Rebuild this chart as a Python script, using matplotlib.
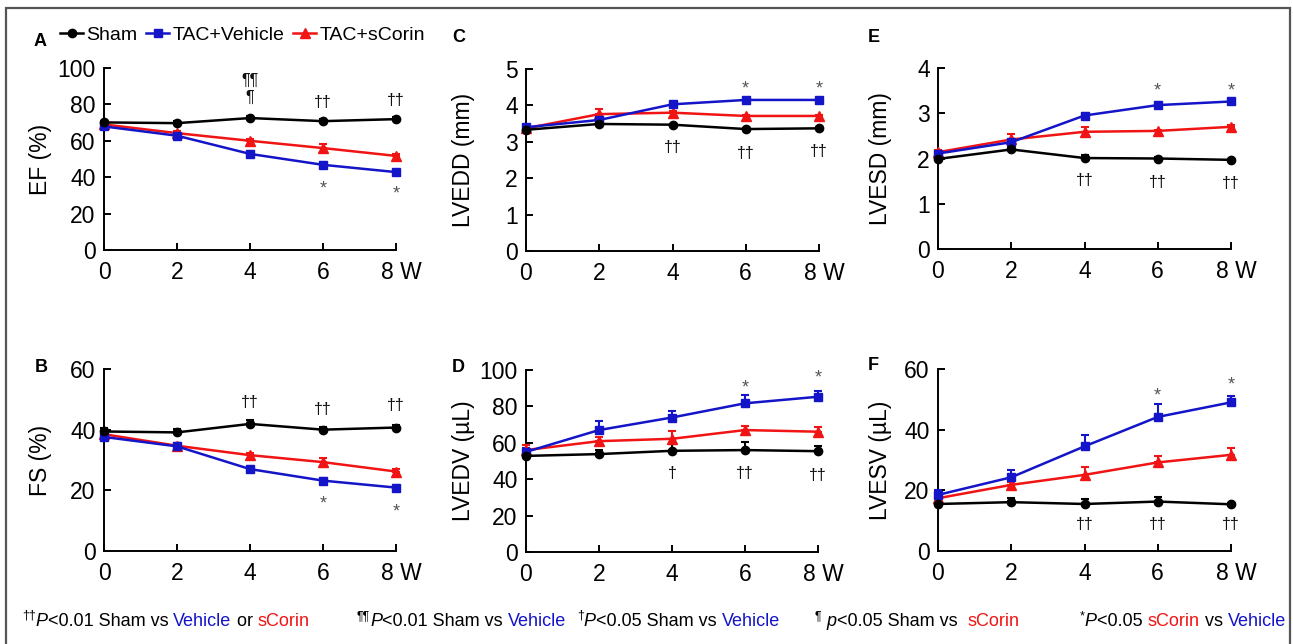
import numpy as np
import matplotlib
matplotlib.use('Agg')
from matplotlib import pyplot as plt
from matplotlib.lines import Line2D
from matplotlib.patches import Rectangle
import matplotlib.transforms as mtransforms

plt.rcParams['font.family'] = ['Liberation Sans', 'DejaVu Sans']

weeks = [0, 2, 4, 6, 8]
x_labels = ['0', '2', '4', '6', '8 W']
groups = ['Sham', 'TAC+Vehicle', 'TAC+sCorin']

# EF (%)
ef_sham = [70.1, 69.7, 72.5, 70.8, 71.9]
ef_vehicle = [67.9, 62.8, 52.8, 46.8, 42.8]
ef_scorin = [69.0, 64.2, 60.0, 56.0, 51.7]
ef_sham_err = [1.0, 1.0, 1.0, 1.0, 1.0]
ef_vehicle_err = [1.2, 1.5, 1.5, 1.8, 1.2]
ef_scorin_err = [1.0, 1.0, 1.0, 2.2, 1.0]

# FS (%)
fs_sham = [39.4, 39.1, 41.9, 40.0, 40.7]
fs_vehicle = [37.6, 34.5, 27.0, 23.2, 20.9]
fs_scorin = [38.5, 34.7, 31.6, 29.3, 26.2]
fs_sham_err = [1.0, 1.2, 1.3, 0.8, 1.0]
fs_vehicle_err = [1.0, 1.0, 1.0, 1.0, 1.0]
fs_scorin_err = [1.0, 1.0, 0.8, 1.2, 0.8]

# LVEDD (mm)
lvedd_sham = [3.33, 3.49, 3.47, 3.35, 3.37]
lvedd_vehicle = [3.40, 3.60, 4.03, 4.15, 4.15]
lvedd_scorin = [3.37, 3.76, 3.80, 3.71, 3.71]
lvedd_sham_err = [0.03, 0.03, 0.03, 0.03, 0.03]
lvedd_vehicle_err = [0.04, 0.04, 0.04, 0.04, 0.04]
lvedd_scorin_err = [0.03, 0.14, 0.04, 0.03, 0.03]

# LVEDV (uL)
lvedv_sham = [52.8, 53.8, 55.6, 56.0, 55.4]
lvedv_vehicle = [55.0, 67.0, 73.9, 81.7, 85.3]
lvedv_scorin = [56.0, 60.9, 62.2, 67.0, 66.1]
lvedv_sham_err = [1.0, 2.0, 3.5, 4.6, 2.6]
lvedv_vehicle_err = [2.0, 5.0, 3.5, 4.4, 3.0]
lvedv_scorin_err = [3.0, 2.4, 4.4, 2.5, 2.8]

# LVESD (mm)
lvesd_sham = [1.99, 2.20, 2.01, 2.00, 1.97]
lvesd_vehicle = [2.11, 2.36, 2.95, 3.18, 3.26]
lvesd_scorin = [2.14, 2.42, 2.59, 2.61, 2.70]
lvesd_sham_err = [0.04, 0.04, 0.06, 0.03, 0.03]
lvesd_vehicle_err = [0.05, 0.06, 0.06, 0.06, 0.04]
lvesd_scorin_err = [0.05, 0.13, 0.10, 0.03, 0.03]

# LVESV (uL)
lvesv_sham = [15.5, 16.1, 15.5, 16.3, 15.4]
lvesv_vehicle = [18.5, 24.3, 34.5, 44.2, 49.0]
lvesv_scorin = [17.4, 21.8, 25.1, 29.2, 31.7]
lvesv_sham_err = [1.5, 1.5, 1.6, 1.6, 0.5]
lvesv_vehicle_err = [1.5, 2.4, 3.6, 4.2, 2.0]
lvesv_scorin_err = [1.0, 1.0, 2.5, 2.2, 2.2]

# significance marks: (week, y, symbol)
marks_ef = [(4, 93.4, '¶¶'), (4, 84, '¶'), (6, 81, '††'), (8, 82.4, '††'),
            (6, 35.7, '*'), (8, 33, '*')]
marks_fs = [(4, 49.1, '††'), (6, 46.5, '††'), (8, 48.1, '††'),
            (6, 16.8, '*'), (8, 14.2, '*')]
marks_lvedd = [(6, 4.56, '*'), (8, 4.56, '*'), (4, 2.83, '††'),
               (6, 2.69, '††'), (8, 2.72, '††')]
marks_lvedv = [(6, 92.3, '*'), (8, 97.8, '*'), (4, 43.4, '†'),
               (6, 43.4, '††'), (8, 42.3, '††')]
marks_lvesd = [(6, 3.58, '*'), (8, 3.58, '*'), (4, 1.52, '††'),
               (6, 1.48, '††'), (8, 1.44, '††')]
marks_lvesv = [(6, 52.4, '*'), (8, 56, '*'), (4, 8.9, '††'),
               (6, 8.9, '††'), (8, 8.9, '††')]

BLACK = '#000000'
BLUE = '#1414c8'
RED = '#f01414'
W, H = 1293, 644

fig = plt.figure(figsize=(W / 100, H / 100), dpi=100)


def px_axes(left, top, right, bottom):
    return fig.add_axes([left / W, 1 - bottom / H, (right - left) / W, (bottom - top) / H])


panels = [
    # letter, box, ylabel, ymax, ystep, series, marks, letter pos, ylabel x
    ('A', (104, 68, 396, 250), 'EF (%)', 100, 20,
     [(ef_scorin, ef_scorin_err), (ef_vehicle, ef_vehicle_err), (ef_sham, ef_sham_err)],
     marks_ef, (40, 41), -0.178),
    ('B', (104, 369, 396, 551), 'FS (%)', 60, 20,
     [(fs_scorin, fs_scorin_err), (fs_vehicle, fs_vehicle_err), (fs_sham, fs_sham_err)],
     marks_fs, (41, 367), -0.178),
    ('C', (526, 69, 819, 251), 'LVEDD (mm)', 5, 1,
     [(lvedd_scorin, lvedd_scorin_err), (lvedd_vehicle, lvedd_vehicle_err), (lvedd_sham, lvedd_sham_err)],
     marks_lvedd, (459, 37), -0.175),
    ('D', (526, 370, 818, 552), 'LVEDV (µL)', 100, 20,
     [(lvedv_scorin, lvedv_scorin_err), (lvedv_vehicle, lvedv_vehicle_err), (lvedv_sham, lvedv_sham_err)],
     marks_lvedv, (458, 367), -0.175),
    ('E', (938, 68, 1231, 249), 'LVESD (mm)', 4, 1,
     [(lvesd_scorin, lvesd_scorin_err), (lvesd_vehicle, lvesd_vehicle_err), (lvesd_sham, lvesd_sham_err)],
     marks_lvesd, (874, 38), -0.158),
    ('F', (938, 369, 1231, 551), 'LVESV (µL)', 60, 20,
     [(lvesv_scorin, lvesv_scorin_err), (lvesv_vehicle, lvesv_vehicle_err), (lvesv_sham, lvesv_sham_err)],
     marks_lvesv, (873, 365), -0.158),
]

styles = [(RED, '^', 6.5), (BLUE, 's', 6), (BLACK, 'o', 6)]

for letter, box, ylabel, ymax, ystep, series, marks, lpos, ylx in panels:
    ax = px_axes(*box)
    for (vals, err), (col, mk, ms) in zip(series, styles):
        ax.errorbar(weeks, vals, yerr=[np.zeros(len(err)), err], color=col, ecolor=col,
                    elinewidth=1.5, capsize=3, capthick=1.5, lw=1.8, marker=mk,
                    markersize=ms, clip_on=False, zorder=3)
    ax.set_xlim(0, 8)
    ax.set_ylim(0, ymax)
    ax.set_xticks(weeks)
    ax.set_xticklabels(x_labels)
    ax.set_yticks(np.arange(0, ymax + ystep / 2, ystep))
    for side in ('top', 'right'):
        ax.spines[side].set_visible(False)
    for side in ('left', 'bottom'):
        ax.spines[side].set_linewidth(1.4)
    ax.tick_params(direction='in', length=5, width=1.4, labelsize=16.5, pad=6)
    ax.tick_params(axis='x', pad=8)
    last = ax.get_xticklabels()[-1]
    last.set_transform(last.get_transform() +
                       mtransforms.ScaledTranslation(5 / 100, 0, fig.dpi_scale_trans))
    ax.set_ylabel(ylabel, fontsize=16.5)
    ax.yaxis.set_label_coords(ylx, 0.5)
    for wk, yv, sym in marks:
        if sym == '*':
            ax.annotate(sym, (wk, yv), xytext=(0, -3), textcoords='offset points',
                        ha='center', va='center', fontsize=13, color='#555555',
                        annotation_clip=False)
        else:
            ax.annotate(sym, (wk, yv), ha='center', va='center', fontsize=11.5,
                        color='#111111', annotation_clip=False)
    fig.text(lpos[0] / W, 1 - lpos[1] / H, letter, fontsize=13, fontweight='bold',
             ha='center', va='center')

# legend
handles = [Line2D([], [], color=c, marker=m, markersize=s, lw=1.8)
           for c, m, s in [(BLACK, 'o', 6), (BLUE, 's', 6), (RED, '^', 6.5)]]
fig.legend(handles, groups, loc='center left', bbox_to_anchor=(60 / W, 1 - 35 / H),
           ncol=3, frameon=False, fontsize=14, handlelength=1.2, handletextpad=0.15,
           columnspacing=0.45, borderpad=0, borderaxespad=0)

# frame around the figure
fig.add_artist(Rectangle((6 / W, -0.05), (1290 - 6) / W, 1.05 - 8 / H,
                         transform=fig.transFigure, fill=False, ec='#555555', lw=1.6))

# footnote
renderer = fig.canvas.get_renderer()
ident = mtransforms.IdentityTransform()
BASE = 644 - 626
FOOT = 13


def text_width(s, size, style):
    a = fig.text(0, 0, s + '|', fontsize=size, style=style, transform=ident)
    b = fig.text(0, 0, '|', fontsize=size, style=style, transform=ident)
    w = a.get_window_extent(renderer).width - b.get_window_extent(renderer).width
    a.remove()
    b.remove()
    return w


def footnote(x, pieces):
    for s, color, kind in pieces:
        size, dy, style = FOOT, 0, 'normal'
        if kind == 'sup':
            size, dy = 9, 7
        elif kind == 'it':
            style = 'italic'
        fig.text(x, BASE + dy, s, fontsize=size, style=style, color=color,
                 transform=ident, va='baseline', ha='left')
        x += text_width(s, size, style)


footnote(22, [('††', BLACK, 'sup'), ('P', BLACK, 'it'), ('<0.01 Sham vs ', BLACK, ''),
              ('Vehicle', BLUE, ''), (' or ', BLACK, ''), ('sCorin', RED, '')])
footnote(357, [('¶¶', BLACK, 'sup'), ('P', BLACK, 'it'), ('<0.01 Sham vs ', BLACK, ''),
               ('Vehicle', BLUE, '')])
footnote(577, [('†', BLACK, 'sup'), ('P', BLACK, 'it'), ('<0.05 Sham vs ', BLACK, ''),
               ('Vehicle', BLUE, '')])
footnote(815, [('¶', BLACK, 'sup'), (' ', BLACK, ''), ('p', BLACK, 'it'),
               ('<0.05 Sham vs  ', BLACK, ''), ('sCorin', RED, '')])
footnote(1080, [('*', BLACK, 'sup'), ('P', BLACK, 'it'), ('<0.05 ', BLACK, ''),
                ('sCorin', RED, ''), (' vs ', BLACK, ''), ('Vehicle', BLUE, '')])

fig.savefig('out.png', dpi=100, facecolor='white')
